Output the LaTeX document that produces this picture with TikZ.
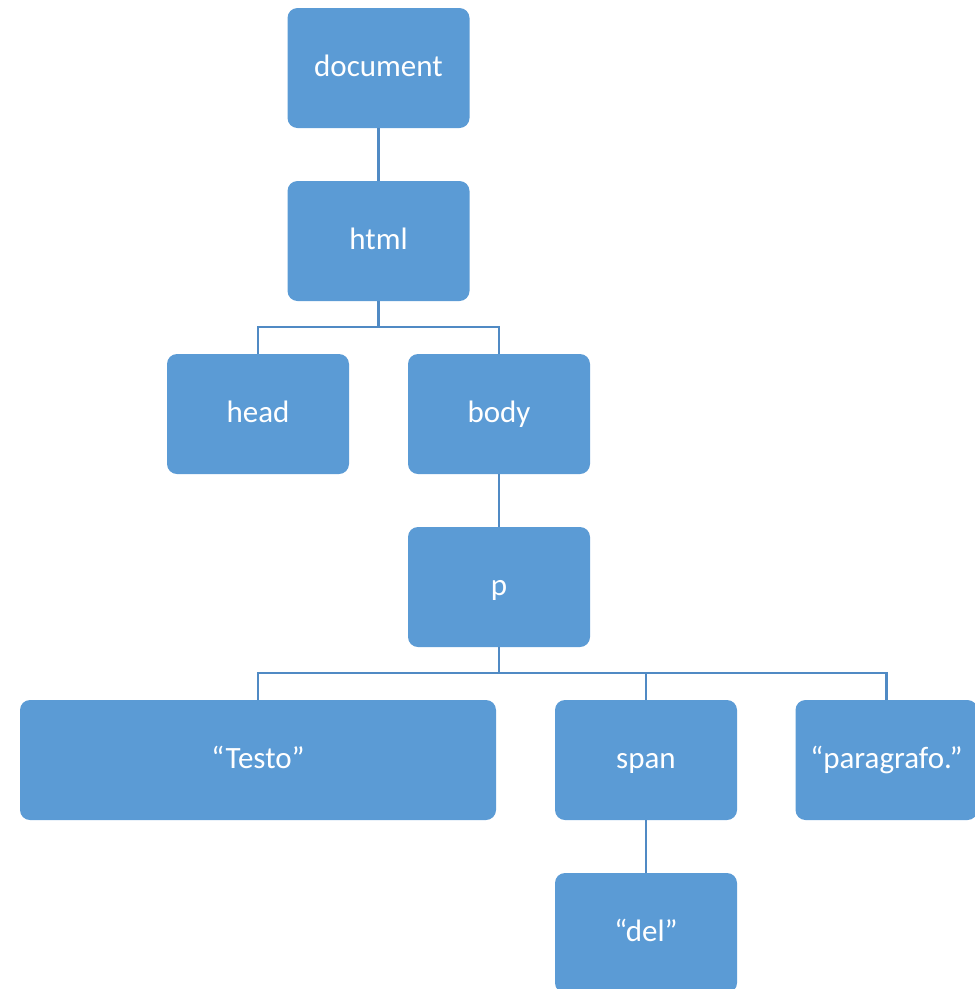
\documentclass[tikz,border=0pt]{standalone}
\usepackage{fontspec}
\setmainfont{Carlito}
\definecolor{boxblue}{RGB}{91,155,213}
\definecolor{linkblue}{RGB}{80,138,196}
\begin{document}
\begin{tikzpicture}[x=1pt,y=-1pt,
  treebox/.style={rectangle, rounded corners=10pt, fill=boxblue, draw=none,
    minimum width=182pt, minimum height=120pt, inner sep=0pt,
    text height=22pt, text depth=6pt,
    text=white, font=\fontsize{31}{37}\selectfont},
  link/.style={draw=linkblue, line width=2.5pt}]
  \useasboundingbox (0,0) rectangle (975,989);
  \clip (0,0) rectangle (975,989);

  % tree nodes
  \node[treebox] (document) at (378.5,68) {document};
  \node[treebox] (html) at (378.5,241) {html};
  \node[treebox] (head) at (258,414) {head};
  \node[treebox] (body) at (499,414) {body};
  \node[treebox] (p) at (499,587) {p};
  \node[treebox, minimum width=476pt] (testo) at (258,760) {“Testo”};
  \node[treebox] (span) at (646,760) {span};
  \node[treebox] (para) at (886.5,760) {“paragrafo.”};
  \node[treebox] (del) at (646,933) {“del”};

  % branch points
  \coordinate (bus1) at (378.5,327);
  \coordinate (bus2) at (499,673);

  % connectors
  \draw[link] (document.south) -- (html.north);
  \draw[link] (html.south) -- (bus1);
  \draw[link] (head.north) |- (bus1);
  \draw[link] (body.north) |- (bus1);
  \draw[link] (body.south) -- (p.north);
  \draw[link] (p.south) -- (bus2);
  \draw[link] (testo.north) |- (bus2);
  \draw[link] (span.north) |- (bus2);
  \draw[link] (para.north) |- (bus2);
  \draw[link] (span.south) -- (del.north);
\end{tikzpicture}
\end{document}
